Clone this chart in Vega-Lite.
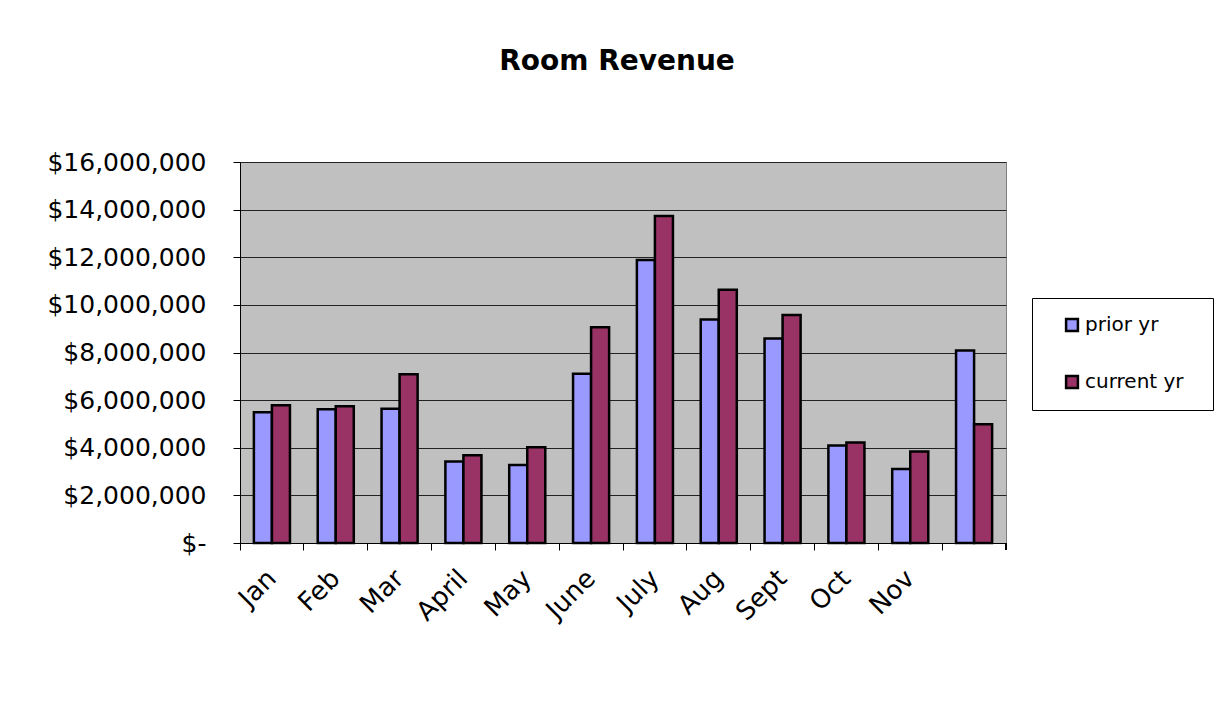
{
  "$schema": "https://vega.github.io/schema/vega-lite/v6.json",
  "width": 766,
  "height": 381,
  "autosize": {"type": "none"},
  "padding": {"left": 240, "top": 162, "right": 212, "bottom": 163},
  "background": "white",
  "title": {
    "text": "Room Revenue",
    "font": "DejaVu Sans",
    "fontSize": 28,
    "fontWeight": "bold",
    "color": "black",
    "anchor": "middle",
    "dx": -6,
    "offset": 74
  },
  "data": {
    "values": [
      {"month": "Jan", "series": "prior yr", "revenue": 5490000},
      {"month": "Jan", "series": "current yr", "revenue": 5780000},
      {"month": "Feb", "series": "prior yr", "revenue": 5620000},
      {"month": "Feb", "series": "current yr", "revenue": 5740000},
      {"month": "Mar", "series": "prior yr", "revenue": 5640000},
      {"month": "Mar", "series": "current yr", "revenue": 7090000},
      {"month": "April", "series": "prior yr", "revenue": 3420000},
      {"month": "April", "series": "current yr", "revenue": 3680000},
      {"month": "May", "series": "prior yr", "revenue": 3280000},
      {"month": "May", "series": "current yr", "revenue": 4020000},
      {"month": "June", "series": "prior yr", "revenue": 7110000},
      {"month": "June", "series": "current yr", "revenue": 9060000},
      {"month": "July", "series": "prior yr", "revenue": 11880000},
      {"month": "July", "series": "current yr", "revenue": 13730000},
      {"month": "Aug", "series": "prior yr", "revenue": 9390000},
      {"month": "Aug", "series": "current yr", "revenue": 10630000},
      {"month": "Sept", "series": "prior yr", "revenue": 8590000},
      {"month": "Sept", "series": "current yr", "revenue": 9570000},
      {"month": "Oct", "series": "prior yr", "revenue": 4090000},
      {"month": "Oct", "series": "current yr", "revenue": 4220000},
      {"month": "Nov", "series": "prior yr", "revenue": 3110000},
      {"month": "Nov", "series": "current yr", "revenue": 3840000},
      {"month": "Dec", "series": "prior yr", "revenue": 8080000},
      {"month": "Dec", "series": "current yr", "revenue": 4990000}
    ]
  },
  "layer": [
    {
      "mark": {"type": "bar", "stroke": "black", "strokeWidth": 2.5},
      "encoding": {
        "x": {
          "field": "month",
          "type": "nominal",
          "scale": {
            "domain": ["Jan", "Feb", "Mar", "April", "May", "June", "July", "Aug", "Sept", "Oct", "Nov", "Dec"],
            "paddingInner": 0,
            "paddingOuter": 0
          },
          "axis": {
            "title": null,
            "bandPosition": 0,
            "labelOffset": 0,
            "labelAngle": -45,
            "labelAlign": "right",
            "labelBaseline": "middle",
            "labelPadding": 24,
            "labelFont": "DejaVu Sans",
            "labelFontSize": 26,
            "labelColor": "black",
            "labelExpr": "datum.value == 'Dec' ? '' : datum.value",
            "tickSize": 7,
            "tickColor": "black",
            "domainColor": "black",
            "domainWidth": 1,
            "grid": false
          }
        },
        "xOffset": {
          "field": "series",
          "sort": ["prior yr", "current yr"],
          "scale": {"paddingInner": 0, "paddingOuter": 0.77}
        },
        "y": {
          "field": "revenue",
          "type": "quantitative",
          "scale": {"domain": [0, 16000000], "nice": false},
          "axis": {
            "title": null,
            "values": [0, 2000000, 4000000, 6000000, 8000000, 10000000, 12000000, 14000000, 16000000],
            "labelExpr": "datum.value == 0 ? '$-' : '$' + format(datum.value, ',')",
            "labelFont": "DejaVu Sans",
            "labelFontSize": 25,
            "labelColor": "black",
            "labelPadding": 27,
            "tickSize": 7,
            "tickColor": "black",
            "domainColor": "black",
            "grid": true,
            "gridColor": "#222222",
            "gridWidth": 1
          }
        },
        "color": {
          "field": "series",
          "type": "nominal",
          "scale": {"domain": ["prior yr", "current yr"], "range": ["#9999FF", "#993366"]},
          "legend": {
            "title": "\u00a0",
            "titleOrient": "right",
            "titlePadding": 12,
            "titleFontSize": 4,
            "orient": "none",
            "legendX": 792,
            "legendY": 136,
            "strokeColor": "black",
            "fillColor": "white",
            "padding": 17,
            "rowPadding": 35,
            "symbolType": "square",
            "symbolSize": 140,
            "symbolStrokeColor": "black",
            "symbolStrokeWidth": 2.5,
            "symbolOffset": 13,
            "labelFont": "DejaVu Sans",
            "labelFontSize": 20,
            "labelColor": "black",
            "labelOffset": 3
          }
        }
      }
    },
    {
      "mark": {"type": "rule", "color": "black", "strokeWidth": 1, "clip": false},
      "encoding": {
        "x": {"datum": "Dec", "type": "nominal", "bandPosition": 1},
        "y": {"datum": 0, "type": "quantitative"},
        "y2": {"datum": -294000}
      }
    }
  ],
  "config": {
    "view": {"fill": "#C0C0C0", "stroke": "#808080", "strokeWidth": 1}
  }
}
